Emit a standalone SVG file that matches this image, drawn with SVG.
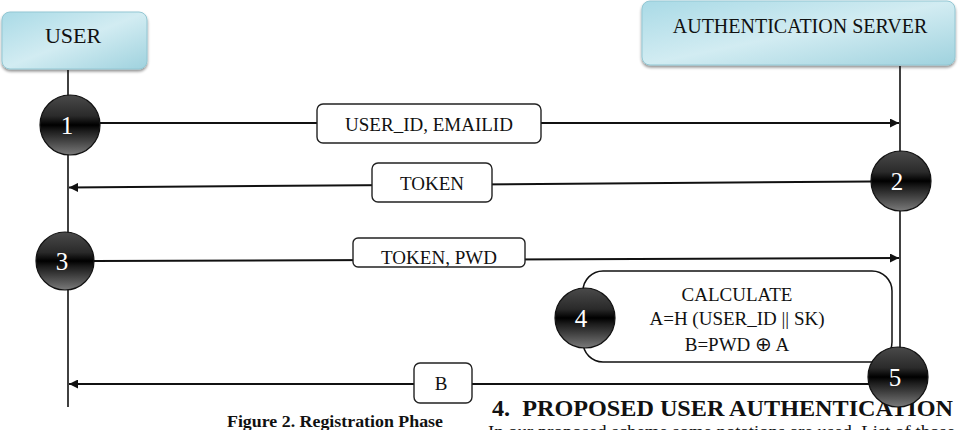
<svg xmlns="http://www.w3.org/2000/svg" width="961" height="430" viewBox="0 0 961 430">
<style>
  .serif { font-family: "Liberation Serif", "Times New Roman", serif; }
  .lbl { font-family: "Liberation Serif", "Times New Roman", serif; font-size: 19px; fill: #111; text-anchor: middle; }
  .num { font-family: "Liberation Serif", "Times New Roman", serif; font-size: 25px; fill: #fff; text-anchor: middle; }
  .life { stroke: #111; stroke-width: 1.6; fill: none; }
  .msg { stroke: #111; stroke-width: 2; fill: none; }
  .tag { fill: #fff; stroke: #222; stroke-width: 1.4; }
  .ball { fill: url(#ballGrad); stroke: #111; stroke-width: 1.2; }
  .head { fill: url(#headGrad); stroke: #93c7d3; stroke-width: 1; filter: url(#shadow); }
</style>
<defs>
  <linearGradient id="ballGrad" x1="0" y1="0" x2="0" y2="1">
    <stop offset="0" stop-color="#4a4a4a"/>
    <stop offset="0.35" stop-color="#2a2a2a"/>
    <stop offset="0.5" stop-color="#000"/>
    <stop offset="0.6" stop-color="#1c1c1c"/>
    <stop offset="1" stop-color="#7a7a7a"/>
  </linearGradient>
  <linearGradient id="headGrad" x1="0" y1="0" x2="1" y2="1">
    <stop offset="0" stop-color="#a9dae6"/>
    <stop offset="0.5" stop-color="#d2ecf2"/>
    <stop offset="1" stop-color="#9fd2de"/>
  </linearGradient>
  <filter id="shadow" x="-10%" y="-20%" width="120%" height="150%">
    <feGaussianBlur in="SourceAlpha" stdDeviation="1.5"/>
    <feOffset dx="0" dy="2" result="b"/>
    <feComponentTransfer><feFuncA type="linear" slope="0.45"/></feComponentTransfer>
    <feMerge><feMergeNode/><feMergeNode in="SourceGraphic"/></feMerge>
  </filter>
  <marker id="arr" viewBox="0 0 10 10" refX="10" refY="5" markerWidth="11" markerHeight="9" markerUnits="userSpaceOnUse" orient="auto">
    <path d="M0,0 L10,5 L0,10 z" fill="#111"/>
  </marker>
</defs>
<rect width="961" height="430" fill="#fff"/>

<g id="user">
  <rect class="head" x="2" y="12" width="145" height="57" rx="8"/>
  <text class="serif" x="73" y="43" font-size="22" text-anchor="middle" fill="#111">USER</text>
</g>
<g id="server">
  <rect class="head" x="642" y="1" width="313" height="64" rx="8"/>
  <text class="serif" x="800" y="33" font-size="20" text-anchor="middle" fill="#111">AUTHENTICATION SERVER</text>
</g>

<g id="connectors">
  <line class="life" x1="68" y1="70" x2="68" y2="407"/>
  <line class="life" x1="900" y1="66" x2="900" y2="352"/>
  <line class="msg" x1="100" y1="123" x2="899" y2="123" marker-end="url(#arr)"/>
  <line class="msg" x1="871" y1="181.5" x2="69" y2="187.5" marker-end="url(#arr)"/>
  <line class="msg" x1="94" y1="261" x2="899" y2="258" marker-end="url(#arr)"/>
  <line class="msg" x1="870" y1="384" x2="69" y2="384" marker-end="url(#arr)"/>
</g>

<g id="label-userid">
  <rect class="tag" x="317" y="104" width="224" height="39" rx="6"/>
  <text class="lbl" x="429" y="131">USER_ID, EMAILID</text>
</g>
<g id="label-token">
  <rect class="tag" x="372" y="163" width="120" height="39" rx="6"/>
  <text class="lbl" x="432" y="190" font-size="17">TOKEN</text>
</g>
<g id="label-tokenpwd">
  <rect class="tag" x="353" y="238" width="172" height="29" rx="5"/>
  <text class="lbl" x="439" y="264" font-size="17">TOKEN, PWD</text>
</g>
<g id="label-b">
  <rect class="tag" x="414" y="363" width="58" height="40" rx="6"/>
  <text class="lbl" x="441" y="390" font-size="17">B</text>
</g>

<g id="calculate">
  <rect x="583" y="271" width="309" height="91" rx="20" fill="#fff" stroke="#111" stroke-width="1.5"/>
  <text class="lbl" x="737" y="301">CALCULATE</text>
  <text class="lbl" x="737" y="325">A=H (USER_ID || SK)</text>
  <text class="lbl" x="737" y="351">B=PWD <tspan font-family="DejaVu Sans, sans-serif" font-size="20">⊕</tspan> A</text>
</g>

<g id="step1">
  <circle class="ball" cx="70" cy="125" r="30"/>
  <text class="num" x="67" y="134">1</text>
</g>
<g id="step2">
  <circle class="ball" cx="901" cy="181" r="30"/>
  <text class="num" x="897" y="190">2</text>
</g>
<g id="step3">
  <circle class="ball" cx="65" cy="261" r="29"/>
  <text class="num" x="62" y="270">3</text>
</g>
<g id="step4">
  <circle class="ball" cx="585" cy="318" r="30"/>
  <text class="num" x="581" y="327">4</text>
</g>

<text class="serif" x="335" y="427" font-size="17.5" font-weight="bold" text-anchor="middle" fill="#111" textLength="216" lengthAdjust="spacingAndGlyphs">Figure 2. Registration Phase</text>
<text class="serif" x="492" y="416" font-size="24" font-weight="bold" fill="#111" textLength="461" lengthAdjust="spacingAndGlyphs" xml:space="preserve">4.  PROPOSED USER AUTHENTICATION</text>
<text class="serif" x="488" y="437" font-size="17" fill="#111" textLength="467" lengthAdjust="spacingAndGlyphs">In our proposed scheme some notations are used. List of those</text>

<g id="step5">
  <circle class="ball" cx="898" cy="377" r="30"/>
  <text class="num" x="895" y="386">5</text>
</g>
</svg>
